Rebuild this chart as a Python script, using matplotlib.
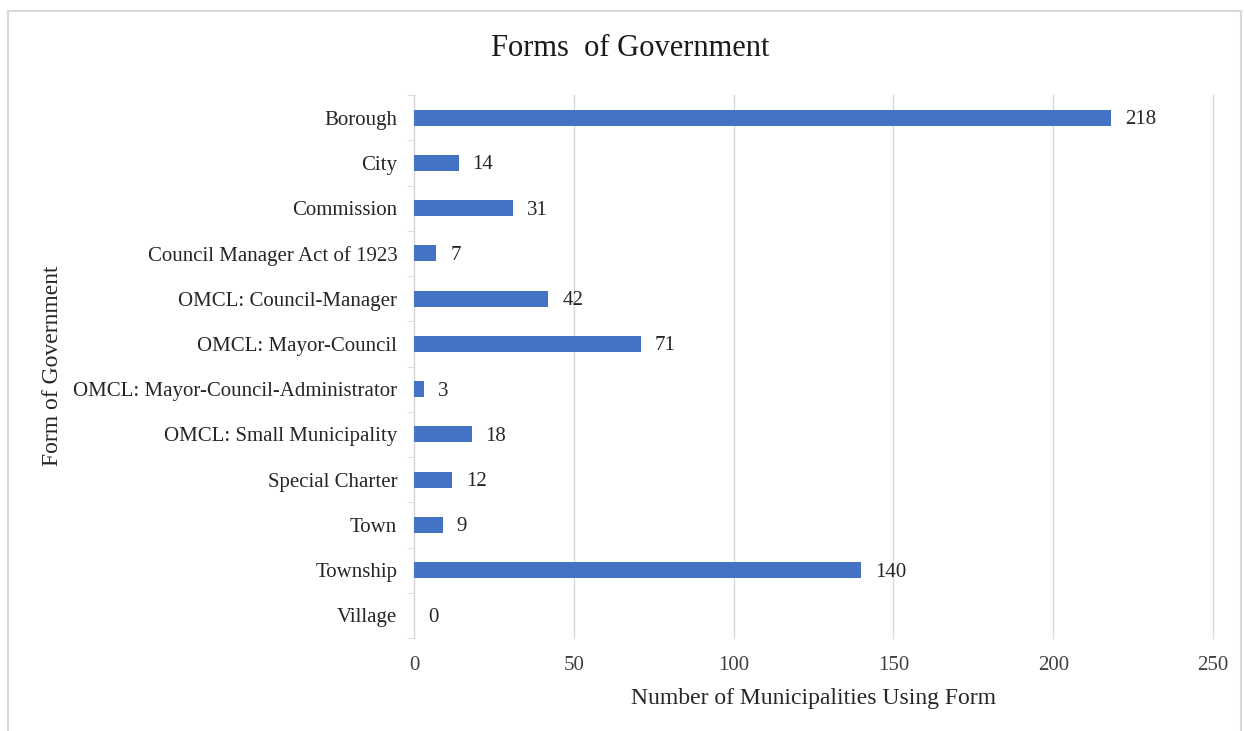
import matplotlib.pyplot as plt
from matplotlib.patches import Rectangle

plt.rcParams["font.family"] = ["Liberation Serif", "DejaVu Serif"]

categories = [
    "Borough", "City", "Commission", "Council Manager Act of 1923",
    "OMCL: Council-Manager", "OMCL: Mayor-Council",
    "OMCL: Mayor-Council-Administrator", "OMCL: Small Municipality",
    "Special Charter", "Town", "Township", "Village",
]
counts = [218, 14, 31, 7, 42, 71, 3, 18, 12, 9, 140, 0]
xticks = [0, 50, 100, 150, 200, 250]

fig = plt.figure(figsize=(12.44, 7.31), dpi=100)
ax = fig.add_axes([0.3328, 0.1272, 0.6423, 0.7428])

# figure border
fig.patches.append(Rectangle((8 / 1244, -0.01), 1233 / 1244, 1 - 11 / 731 + 0.01,
                             transform=fig.transFigure, fill=False,
                             edgecolor="#d9d9d9", linewidth=1.5))

pos = list(range(len(categories)))
ax.barh(pos, counts, height=0.35, color="#4472c4", zorder=3)
for p, v in zip(pos, counts):
    ax.annotate(str(v), (v, p), xytext=(10, -1.5), textcoords="offset points",
                va="center", ha="left", fontsize=15, color="#262626")

ax.set_ylim(len(categories) - 0.5, -0.5)
ax.set_xlim(0, 250)
ax.set_yticks(pos)
ax.set_yticklabels(categories, fontsize=15, color="#262626")
ax.set_xticks(xticks)
ax.set_xticklabels([str(t) for t in xticks], fontsize=15, color="#404040")
ax.tick_params(axis="x", length=0, pad=13)
ax.set_yticks([i - 0.5 for i in range(len(categories) + 1)], minor=True)
ax.tick_params(axis="y", which="minor", length=5, color="#d9d9d9")
ax.tick_params(axis="y", which="major", length=0, pad=12)
ax.grid(axis="x", color="#d9d9d9", linewidth=1, zorder=0)
for line in ax.get_xgridlines():
    line.set_clip_on(False)
for s in ["top", "right", "bottom"]:
    ax.spines[s].set_visible(False)
ax.spines["left"].set_color("#d9d9d9")

ax.set_xlabel("Number of Municipalities Using Form", fontsize=17, color="#262626", labelpad=9)
fig.text(53 / 1244, 1 - 366 / 731, "Form of Government", rotation=90,
         ha="center", va="center", fontsize=17, color="#262626")
fig.text(630 / 1244, 1 - 48 / 731, "Forms  of Government", ha="center", va="center",
         fontsize=22, color="#1a1a1a")

fig.savefig("out.png", dpi=100)
